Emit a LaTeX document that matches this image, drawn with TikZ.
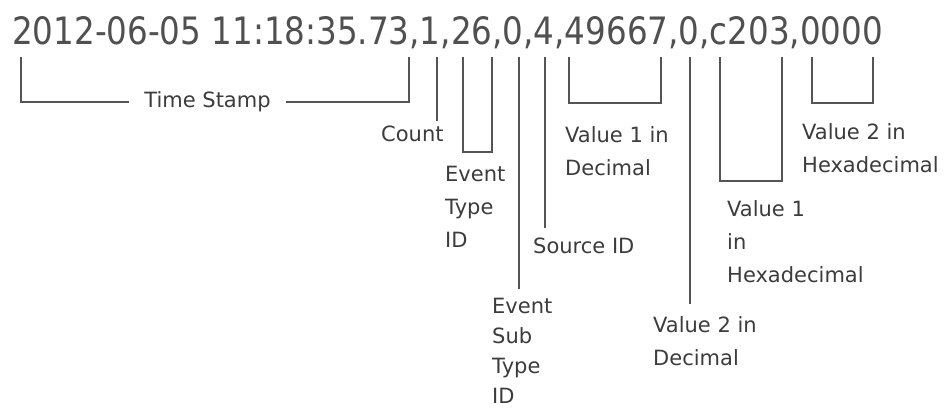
\documentclass[tikz,border=0pt]{standalone}
\usepackage{graphicx}
\usepackage{fontspec}
\setmainfont{DejaVu Sans}
\definecolor{hdrgray}{HTML}{505050}
\definecolor{txtgray}{HTML}{3C3C3C}
\definecolor{lngray}{HTML}{555555}
\tikzset{
  lbl/.style={font=\fontsize{21}{33}\selectfont, text=txtgray, align=left, inner sep=0pt, anchor=base west},
  conn/.style={draw=lngray, line width=1.7pt, line cap=rect},
}
\begin{document}
\begin{tikzpicture}[x=1pt,y=-1pt]
\useasboundingbox[fill=white] (0,0) rectangle (947,412);
% header
\node[anchor=base west, inner sep=0pt, text=hdrgray] (hdr) at (12,45)
  {\resizebox{871pt}{28pt}{\fontsize{30}{30}\selectfont 2012-06-05 11:18:35.73,1,26,0,4,49667,0,c203,0000}};
% labels (anchor = baseline of the last line)
\node[lbl, anchor=mid, inner xsep=16pt] (ts) at (207.5,105) {Time Stamp};
\node[lbl] (cnt) at (381,141) {Count};
\node[lbl] (etid) at (445,247) {Event\\Type\\ID};
\node[lbl] (src) at (533,253) {Source ID};
\node[lbl, font=\fontsize{21}{30}\selectfont] (estid) at (492,403) {Event\\Sub\\Type\\ID};
\node[lbl] (v1d) at (565,175) {Value 1 in\\Decimal};
\node[lbl] (v2d) at (653,365) {Value 2 in\\Decimal};
\node[lbl] (v1h) at (727,282) {Value 1\\in\\Hexadecimal};
\node[lbl] (v2h) at (802,172) {Value 2 in\\Hexadecimal};
% connector end points
\coordinate (tsL) at (21,58);
\coordinate (tsR) at (409,58);
\coordinate (cntT) at (437,58);
\coordinate (cntB) at (437,120);
\coordinate (etL) at (463,58);
\coordinate (etR) at (492,58);
\coordinate (etB) at (477,152);
\coordinate (estT) at (519,58);
\coordinate (estB) at (519,288);
\coordinate (srcT) at (545,58);
\coordinate (srcB) at (545,227);
\coordinate (v1dL) at (569,58);
\coordinate (v1dR) at (661,58);
\coordinate (v1dB) at (615,103);
\coordinate (v2dT) at (690,58);
\coordinate (v2dB) at (690,303);
\coordinate (v1hL) at (720,58);
\coordinate (v1hR) at (782,58);
\coordinate (v1hB) at (751,181);
\coordinate (v2hL) at (812,58);
\coordinate (v2hR) at (873,58);
\coordinate (v2hB) at (842,103);
% connectors
\draw[conn] (tsL) |- (ts.west);
\draw[conn] (ts.east) -| (tsR);
\draw[conn] (cntT) -- (cntB);
\draw[conn] (etL) |- (etB) -| (etR);
\draw[conn] (estT) -- (estB);
\draw[conn] (srcT) -- (srcB);
\draw[conn] (v1dL) |- (v1dB) -| (v1dR);
\draw[conn] (v2dT) -- (v2dB);
\draw[conn] (v1hL) |- (v1hB) -| (v1hR);
\draw[conn] (v2hL) |- (v2hB) -| (v2hR);
\end{tikzpicture}
\end{document}
